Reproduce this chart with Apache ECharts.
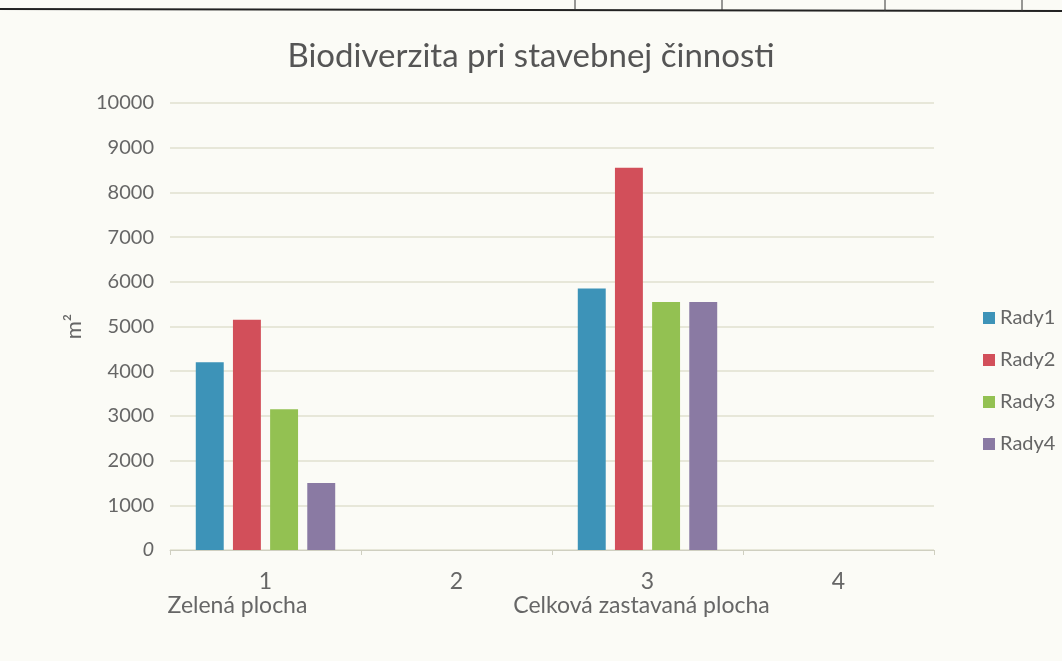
<!DOCTYPE html>
<html>
<head>
<meta charset="utf-8">
<script src="https://cdn.jsdelivr.net/npm/echarts@6/dist/echarts.min.js"></script>
<style>
  html, body { margin: 0; padding: 0; background: #fbfbf6; }
  #chart { width: 1062px; height: 661px; }
</style>
</head>
<body>
<div id="chart"></div>
<script>
const categories = ["1", "2", "3", "4"];
const groupNames = ["Zelená plocha", "", "Celková zastavaná plocha", ""];
const rady1 = [4200, null, 5850, null];
const rady2 = [5150, null, 8550, null];
const rady3 = [3150, null, 5550, null];
const rady4 = [1500, null, 5550, null];
const seriesNames = ["Rady1", "Rady2", "Rady3", "Rady4"];
const colors = ["#3d93b8", "#d24f5a", "#93c152", "#8a7aa3"];

const chart = echarts.init(document.getElementById("chart"));
const font = "Lato, 'Open Sans', sans-serif";

const option = {
  backgroundColor: "#fbfbf6",
  color: colors,
  title: {
    text: "Biodiverzita pri stavebnej činnosti",
    left: "center",
    top: 35,
    textStyle: { fontFamily: font, fontSize: 33, fontWeight: "normal", color: "#555" }
  },
  legend: {
    orient: "vertical",
    left: 978,
    top: 303,
    itemWidth: 12,
    itemHeight: 12,
    itemGap: 22,
    icon: "rect",
    textStyle: { fontFamily: font, fontSize: 20, color: "#666" },
    data: seriesNames
  },
  grid: { left: 170, right: 128, top: 103, bottom: 111 },
  xAxis: {
    type: "category",
    data: categories,
    axisLine: { lineStyle: { color: "#cfcfc0" } },
    axisTick: { show: true, length: 5, lineStyle: { color: "#cfcfc0" } },
    axisLabel: {
      interval: 0,
      margin: 20,
      lineHeight: 24,
      formatter: function (v, i) {
        if (!groupNames[i]) return v;
        return v + "\n{g" + i + "|" + groupNames[i] + "}";
      },
      rich: {
        g0: { fontFamily: font, fontSize: 23, color: "#666", lineHeight: 24, padding: [0, 56, 0, 0] },
        g2: { fontFamily: font, fontSize: 23, color: "#666", lineHeight: 24, padding: [0, 12, 0, 0] }
      },
      fontFamily: font,
      fontSize: 23,
      color: "#666"
    }
  },
  yAxis: {
    type: "value",
    min: 0,
    max: 10000,
    interval: 1000,
    name: "m²",
    nameLocation: "middle",
    nameGap: 84,
    nameRotate: 90,
    nameTextStyle: { fontFamily: font, fontSize: 22, color: "#666" },
    axisLine: { show: false },
    axisTick: { show: false },
    splitLine: { lineStyle: { color: "#e0e0cf", width: 1.5 } },
    axisLabel: {
      margin: 16,
      fontFamily: font,
      fontSize: 20,
      color: "#666",
      formatter: function (v) { return v === 0 ? "{i|0}" : String(v); },
      rich: { i: { fontStyle: "italic", fontFamily: font, fontSize: 20, color: "#666" } }
    }
  },
  series: [rady1, rady2, rady3, rady4].map(function (d, i) {
    return {
      name: seriesNames[i],
      type: "bar",
      data: d,
      barGap: "33%",
      barCategoryGap: "27%"
    };
  }),
  graphic: [
    { type: "line", shape: { x1: 0, y1: 9, x2: 1062, y2: 11 }, style: { stroke: "#222", lineWidth: 2 } },
    { type: "line", shape: { x1: 575, y1: 0, x2: 575, y2: 10 }, style: { stroke: "#333", lineWidth: 1 } },
    { type: "line", shape: { x1: 722, y1: 0, x2: 722, y2: 10 }, style: { stroke: "#333", lineWidth: 1 } },
    { type: "line", shape: { x1: 885, y1: 0, x2: 885, y2: 11 }, style: { stroke: "#333", lineWidth: 1 } },
    { type: "line", shape: { x1: 1022, y1: 0, x2: 1022, y2: 11 }, style: { stroke: "#333", lineWidth: 1 } }
  ]
};

chart.setOption(option);
window.onresize = function () {
  chart.resize();
};
</script>
</body>
</html>
